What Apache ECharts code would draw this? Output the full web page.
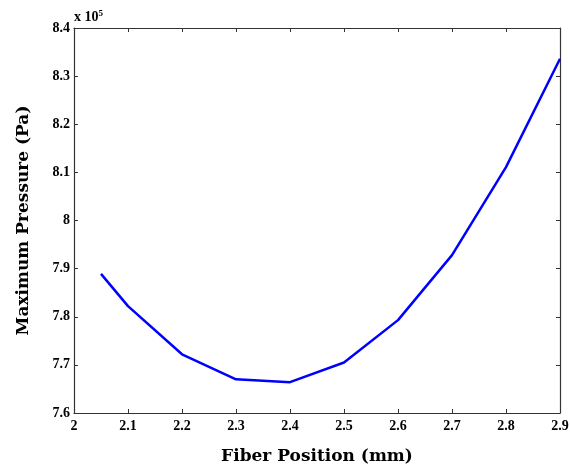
<!DOCTYPE html>
<html>
<head>
<meta charset="utf-8">
<script src="https://cdn.jsdelivr.net/npm/echarts@6/dist/echarts.min.js"></script>
<style>html,body{margin:0;padding:0;background:#fff}#c{width:570px;height:468px}</style>
</head>
<body>
<div id="c"></div>
<script>
const xValues = [2.05, 2.1, 2.2, 2.3, 2.4, 2.5, 2.6, 2.7, 2.8, 2.9];
const pressure = [7.889, 7.822, 7.722, 7.670, 7.664, 7.705, 7.793, 7.928, 8.111, 8.336]; // x 10^5 Pa
const xTitle = 'Fiber Position (mm)';
const yTitle = 'Maximum Pressure (Pa)';

const chart = echarts.init(document.getElementById('c'));
const tickFont = {fontFamily: 'Liberation Serif', fontWeight: 'bold', fontSize: 14, color: '#000'};
const titleFont = {fontFamily: 'DejaVu Serif', fontWeight: 'bold', fontSize: 17, color: '#000'};
const axisLine = {show: true, lineStyle: {color: '#333', width: 1.2}};
const axisTick = {show: true, inside: true, length: 4, lineStyle: {color: '#333', width: 1}};
chart.setOption({
  animation: false,
  grid: {left: 74, right: 10, top: 28, bottom: 55, outerBoundsMode: 'none', containLabel: false},
  xAxis: [{
    type: 'value', min: 2, max: 2.9, interval: 0.1, position: 'bottom',
    axisLine, axisTick, splitLine: {show: false},
    axisLabel: Object.assign({margin: 6, formatter: v => String(Math.round(v*10)/10)}, tickFont),
    name: xTitle, nameLocation: 'middle', nameGap: 35,
    nameTextStyle: titleFont
  }, {
    type: 'value', min: 2, max: 2.9, interval: 0.1, position: 'top',
    axisLine, axisTick, axisLabel: {show: false}, splitLine: {show: false}
  }],
  yAxis: [{
    type: 'value', min: 7.6, max: 8.4, interval: 0.1, position: 'left',
    axisLine, axisTick, splitLine: {show: false},
    axisLabel: Object.assign({margin: 4, formatter: v => String(Math.round(v*10)/10)}, tickFont),
    name: yTitle, nameLocation: 'middle', nameGap: 42, nameRotate: 90,
    nameTextStyle: titleFont
  }, {
    type: 'value', min: 7.6, max: 8.4, interval: 0.1, position: 'right',
    axisLine, axisTick, axisLabel: {show: false}, splitLine: {show: false}
  }],
  graphic: [{
    type: 'text', left: 74, top: 9,
    style: {
      rich: {
        a: {fontFamily: 'Liberation Serif', fontWeight: 'bold', fontSize: 14, fill: '#000'},
        s: {fontFamily: 'Liberation Serif', fontWeight: 'bold', fontSize: 9, fill: '#000', verticalAlign: 'top', padding: [0,0,7,0]}
      },
      text: '{a|x 10}{s|5}'
    }
  }],
  series: [{
    type: 'line', xAxisIndex: 0, yAxisIndex: 0,
    data: xValues.map((x, i) => [x, pressure[i]]),
    showSymbol: false, symbol: 'none',
    lineStyle: {color: '#0000ff', width: 2.5}
  }]
});
</script>
</body>
</html>
